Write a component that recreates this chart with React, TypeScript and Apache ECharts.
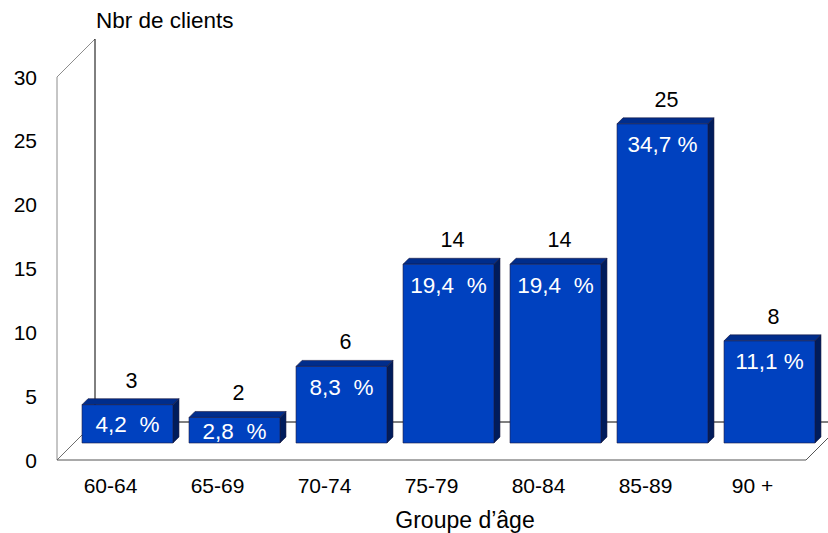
import React, { useEffect, useRef } from "react";
import * as echarts from "echarts";

const categories = ["60-64", "65-69", "70-74", "75-79", "80-84", "85-89", "90 +"];
const clients = [3, 2, 6, 14, 14, 25, 8];
const percentLabels = ["4,2  %", "2,8  %", "8,3  %", "19,4  %", "19,4  %", "34,7 %", "11,1 %"];
const yTicks = { min: 0, max: 30, interval: 5 };
const yTitle = "Nbr de clients";
const xTitle = "Groupe d\u2019âge";

const FONT = "'Liberation Sans', Arial, Helvetica, sans-serif";
const WALL_DEPTH = 38;
const BAR_OFFSET = 17;
const BAR_DEPTH = 6;
const BAR_RATIO = 0.85;

export default function App() {
  const ref = useRef<HTMLDivElement>(null);
  useEffect(() => {
    if (!ref.current) return;
    const chart = echarts.init(ref.current, undefined, { renderer: "svg" });
    const option: any = {
      animation: false,
      backgroundColor: "#ffffff",
      grid: { left: 57, right: 22, top: 77, bottom: 73, containLabel: false },
      xAxis: {
        type: "category",
        data: categories,
        axisLine: { show: false },
        axisTick: { show: false },
        axisLabel: { color: "#000", fontSize: 21, fontFamily: FONT, margin: 15 },
        splitLine: { show: false },
      },
      yAxis: {
        type: "value",
        min: yTicks.min,
        max: yTicks.max,
        interval: yTicks.interval,
        axisLine: { show: false },
        axisTick: { show: false },
        splitLine: { show: false },
        axisLabel: { color: "#000", fontSize: 21, fontFamily: FONT, margin: 20 },
      },
      graphic: [
        {
          type: "text",
          x: 96,
          y: 20,
          style: { text: yTitle, fill: "#000", font: `22.5px ${FONT}`, verticalAlign: "middle" },
        },
        {
          type: "text",
          x: 465,
          y: 520,
          style: {
            text: xTitle,
            fill: "#000",
            font: `23px ${FONT}`,
            align: "center",
            verticalAlign: "middle",
          },
        },
      ],
      series: [
        {
          type: "custom",
          z: 1,
          silent: true,
          data: [[0, 0]],
          encode: { x: 0, y: 1 },
          renderItem: (params: any, api: any) => {
            const bw = api.size([1, 0])[0];
            const p0 = api.coord([0, yTicks.min]);
            const pTop = api.coord([0, yTicks.max]);
            const L = p0[0] - bw / 2;
            const R = L + bw * categories.length;
            const B = p0[1];
            const T = pTop[1];
            const D = WALL_DEPTH;
            const ln = (x1: number, y1: number, x2: number, y2: number, c: string) => ({
              type: "line",
              shape: { x1, y1, x2, y2 },
              style: { stroke: c, lineWidth: 1 },
            });
            return {
              type: "group",
              children: [
                ln(L, T, L, B, "#8c8c8c"),
                ln(L, T, L + D, T - D, "#8c8c8c"),
                ln(L, B, L + D, B - D, "#6e6e6e"),
                ln(L + D, T - D, L + D, B - D, "#000000"),
                ln(L + D, B - D, R + D, B - D, "#000000"),
                ln(L, B, R, B, "#555555"),
                ln(R, B, R + D, B - D, "#555555"),
              ],
            };
          },
        },
        {
          type: "custom",
          z: 2,
          data: clients.map((v, i) => [i, v]),
          encode: { x: 0, y: 1 },
          renderItem: (params: any, api: any) => {
            const idx = api.value(0);
            const v = api.value(1);
            const base = api.coord([idx, 0]);
            const top = api.coord([idx, v]);
            const bw = api.size([1, 0])[0];
            const w = bw * BAR_RATIO;
            const x0 = base[0] - w / 2 + BAR_OFFSET;
            const yb = base[1] - BAR_OFFSET;
            const yt = top[1] - BAR_OFFSET;
            const d = BAR_DEPTH;
            const edge = { stroke: "#1a1a40", lineWidth: 0.6 };
            const pctY = Math.min(yt + 21, (yt + yb) / 2 + 1);
            return {
              type: "group",
              children: [
                {
                  type: "polygon",
                  shape: { points: [[x0, yt], [x0 + d, yt - d], [x0 + w + d, yt - d], [x0 + w, yt]] },
                  style: { fill: "#002d8c", ...edge },
                },
                {
                  type: "polygon",
                  shape: { points: [[x0 + w, yt], [x0 + w + d, yt - d], [x0 + w + d, yb - d], [x0 + w, yb]] },
                  style: { fill: "#001c5c", ...edge },
                },
                {
                  type: "rect",
                  shape: { x: x0, y: yt, width: w, height: yb - yt },
                  style: { fill: "#0041bf", ...edge },
                },
                {
                  type: "text",
                  x: x0 + w / 2 + 4,
                  y: yt - d - 18,
                  style: {
                    text: String(v),
                    fill: "#000",
                    font: `21.5px ${FONT}`,
                    align: "center",
                    verticalAlign: "middle",
                  },
                },
                {
                  type: "text",
                  x: x0 + w / 2,
                  y: pctY,
                  style: {
                    text: percentLabels[params.dataIndex],
                    fill: "#fff",
                    font: `22.5px ${FONT}`,
                    align: "center",
                    verticalAlign: "middle",
                  },
                },
              ],
            };
          },
        },
      ],
    };
    chart.setOption(option);
    return () => chart.dispose();
  }, []);
  return (
    <div
      ref={ref}
      style={{ position: "absolute", left: 0, top: 0, width: 828, height: 533 }}
    />
  );
}
